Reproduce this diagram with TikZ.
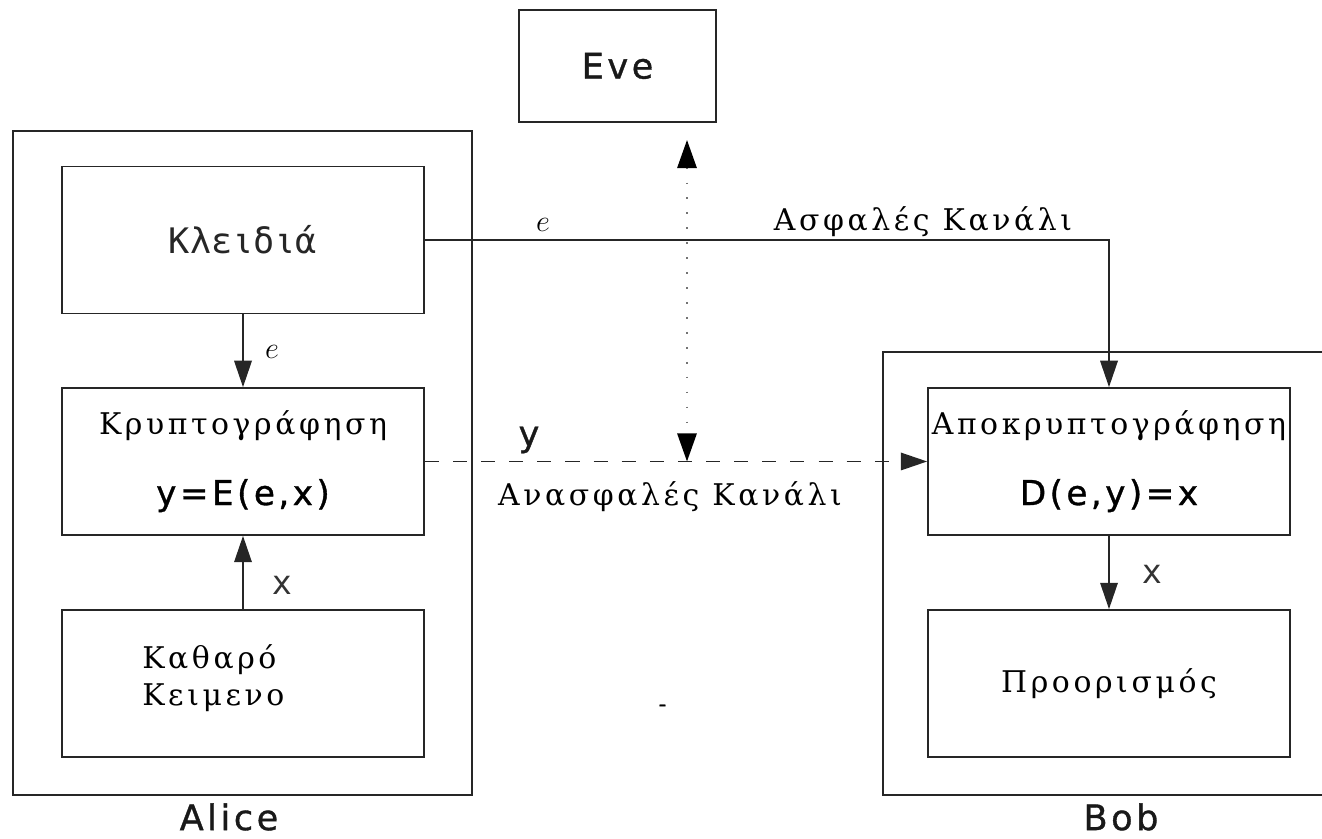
\documentclass[tikz,border=0pt]{standalone}
\usepackage{fontspec}
\newfontfamily\grserif[LetterSpace=12]{DejaVu Serif}
\newfontfamily\grsans{DejaVu Sans Mono}
\newfontfamily\lblsans[LetterSpace=10,FakeBold=1]{DejaVu Sans}
\usetikzlibrary{arrows.meta,positioning,calc}

\begin{document}
\begin{tikzpicture}[
  >={Triangle[length=15pt,width=10pt]},
  frame/.style={draw=black!85,line width=1.1pt},
  box/.style={draw=black!85,line width=1pt,minimum width=7.24cm,minimum height=2.94cm,inner sep=0pt,align=center},
  gr/.style={font=\fontsize{17}{21}\grserif,text=black},
  lbl/.style={font=\fontsize{20}{24}\lblsans,text=black!90,inner sep=1pt},
  link/.style={line width=0.9pt,draw=black!85}
]
  \useasboundingbox (0,0) rectangle (26.44,16.78);

  % Alice side
  \node[frame,minimum width=9.18cm,minimum height=13.28cm] (alice) at (4.85,7.52) {};
  \node[box,font=\fontsize{20}{21}\grsans,text=black!85] (key) at (4.86,11.98) {Κλειδιά};
  \node[box,gr] (enc) at (4.86,7.55) {Κρυπτογράφηση\\[19pt]{\fontsize{19.5}{21}\lblsans y=E(e,x)}};
  \node[box] (plain) at (4.86,3.11) {};
  \node[gr,align=left,anchor=west] (plaintxt) at ([xshift=1.5cm,yshift=0.1cm]plain.west) {Καθαρό\\Κειμενο};
  \node[lbl] (alicelbl) at (4.58,0.44) {Alice};

  % Bob side
  \coordinate (bobNW) at (17.66,9.74);
  \coordinate (bobSW) at (17.66,0.88);
  \draw[frame] (26.7,9.74) -- (bobNW) -- (bobSW) -- (26.7,0.88);
  \node[box,gr] (dec) at (22.18,7.55) {Αποκρυπτογράφηση\\[19pt]{\fontsize{19.5}{21}\lblsans D(e,y)=x}};
  \node[box,gr] (dest) at (22.18,3.11) {Προορισμός};
  \node[lbl] (boblbl) at (22.42,0.44) {Bob};

  % Eve
  \node[frame,lbl,minimum width=3.94cm,minimum height=2.24cm] (eve) at (12.35,15.46) {Eve};
  \coordinate (tapTop) at (13.74,13.98);
  \coordinate (tapBot) at (enc.east -| tapTop);

  % channels
  \draw[link,->] (key.east) -| (dec.north);
  \node[font=\fontsize{19}{19}\selectfont] (ke) at (10.86,12.28) {$e$};
  \node[gr] (secure) at (18.46,12.34) {Ασφαλές Κανάλι};

  \draw[link,->,dash pattern=on 8pt off 8pt] (enc.east) -- (dec.west);
  \node[lbl] (cy) at (10.58,7.98) {y};
  \node[gr] (insecure) at (13.4,6.84) {Ανασφαλές Κανάλι};

  \draw[line width=1.2pt,draw=black!55,dash pattern=on 1pt off 7.5pt,
    {Triangle[length=16pt,width=11pt,black]}-{Triangle[length=16pt,width=11pt,black]}] (tapTop) -- (tapBot);

  \draw[link,->] (key.south) -- (enc.north);
  \node[font=\fontsize{19}{19}\selectfont] (ae) at (5.44,9.74) {$e$};
  \draw[link,->] (plain.north) -- (enc.south);
  \node[font=\fontsize{19}{19}\grsans,text=black!80] (ax) at (5.64,5.08) {x};
  \draw[link,->] (dec.south) -- (dest.north);
  \node[font=\fontsize{19}{19}\grsans,text=black!80] (bx) at (23.04,5.3) {x};

  \node[font=\fontsize{12}{12}\lblsans] (dash) at (13.25,2.62) {-};
\end{tikzpicture}
\end{document}
